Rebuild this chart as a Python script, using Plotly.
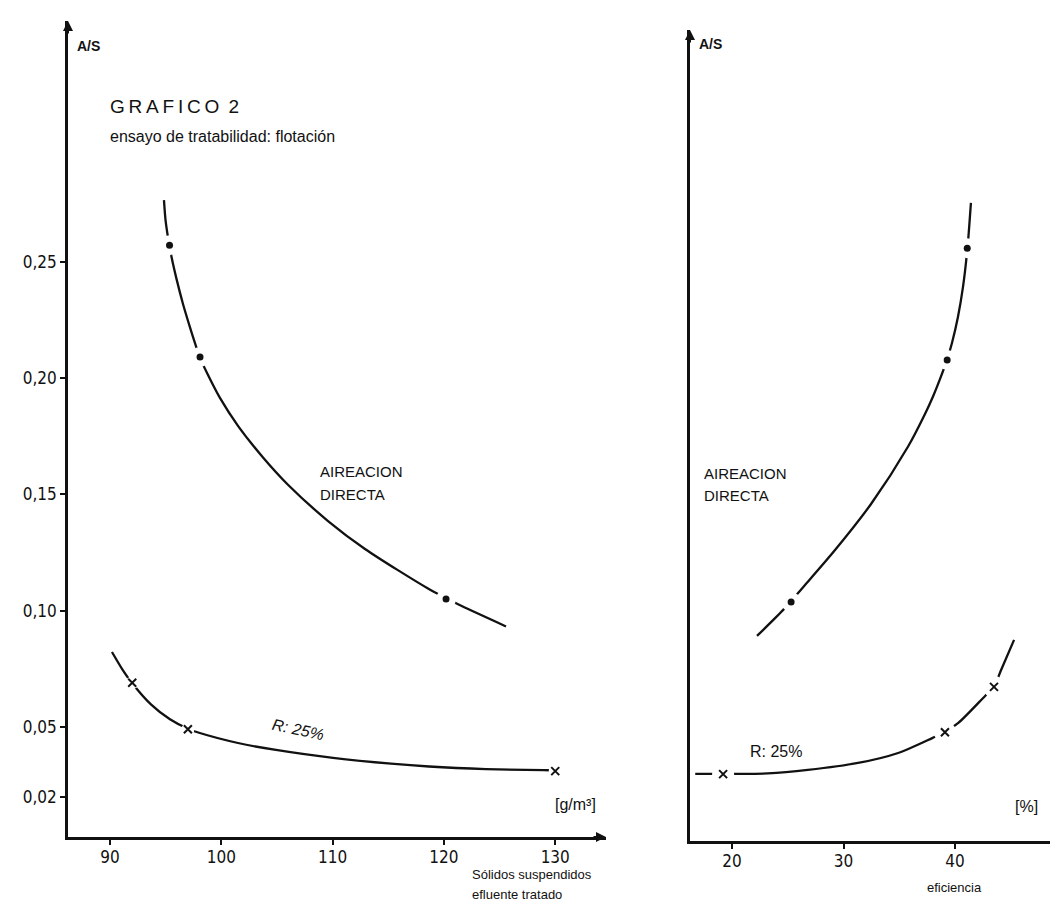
import plotly.graph_objects as go

W, H = 1058, 911

# ---------------- data ----------------
# Left panel: A/S vs suspended solids of treated effluent [g/m3]
ss_direct_curve = [94.85, 94.99, 95.15, 95.35, 95.55, 95.96, 96.56, 97.21, 97.66, 98.09, 98.72,
                   99.88, 101.50, 103.75, 105.99, 109.59, 112.91, 118.57, 120.19, 121.27, 125.58]
as_direct_curve = [0.2764, 0.2679, 0.2623, 0.2567, 0.2515, 0.2429, 0.2318, 0.2214, 0.2146, 0.2086, 0.2021,
                   0.1914, 0.1794, 0.1658, 0.1541, 0.1385, 0.1265, 0.1095, 0.1054, 0.1027, 0.0932]
ss_direct_pts = [95.35, 98.09, 120.19]
as_direct_pts = [0.257, 0.209, 0.105]

ss_r25_curve = [90.18, 91.08, 91.98, 93.68, 95.39, 97.01, 98.0, 101.5, 104.91, 110.04,
                115.25, 118.66, 123.78, 128.99, 129.97]
as_r25_curve = [0.0822, 0.0750, 0.0689, 0.0597, 0.0533, 0.0492, 0.0475, 0.0431, 0.0401, 0.0367,
                0.0342, 0.0330, 0.0319, 0.0314, 0.0314]
ss_r25_pts = [92.0, 97.0, 130.0]
as_r25_pts = [0.069, 0.049, 0.031]

# Right panel: A/S vs efficiency [%]
ef_direct_curve = [41.43, 41.12, 40.72, 40.27, 39.73, 39.28, 38.74, 38.03, 37.31, 35.78,
                   32.47, 29.24, 26.55, 25.29, 24.57, 22.24]
as_direct_curve_r = [0.2765, 0.2571, 0.2404, 0.2276, 0.2163, 0.2090, 0.2018, 0.1933, 0.1858, 0.1717,
                     0.1471, 0.1273, 0.1123, 0.1054, 0.1015, 0.0904]
ef_direct_pts = [41.1, 39.3, 25.3]
as_direct_pts_r = [0.257, 0.209, 0.105]

ef_r25_curve = [16.7, 18.1, 19.2, 20.4, 23.2, 26.8, 31.3, 34.9, 38.0, 39.1,
                40.3, 42.7, 43.5, 44.1, 45.3]
as_r25_curve_r = [0.0311, 0.0311, 0.0311, 0.0311, 0.0313, 0.0328, 0.0358, 0.0401, 0.0466, 0.0491,
                  0.0530, 0.0646, 0.0685, 0.0753, 0.0887]
ef_r25_pts = [19.2, 39.1, 43.5]
as_r25_pts_r = [0.031, 0.049, 0.0685]

y_ticks = [0.02, 0.05, 0.10, 0.15, 0.20, 0.25]
y_tick_text = ["0,02", "0,05", "0,10", "0,15", "0,20", "0,25"]
ss_ticks = [90, 100, 110, 120, 130]
ef_ticks = [20, 30, 40]

# ---------------- styling ----------------
NARROW = "Liberation Sans Narrow, DejaVu Sans Condensed, Arial Narrow, Liberation Sans, sans-serif"
SANS = "Liberation Sans, Arial, Helvetica, sans-serif"
INK = "#111111"


def pxx(x):
    return x / W


def pxy(y):
    return 1 - y / H


def spaced(s):
    return "\u2009".join(s)


fig = go.Figure()


def add_curve(x, y, xa, ya):
    fig.add_trace(go.Scatter(x=x, y=y, mode="lines", xaxis=xa, yaxis=ya,
                             line=dict(color=INK, width=2.3, shape="spline", smoothing=0.8),
                             hoverinfo="skip", showlegend=False))


def add_halo(x, y, xa, ya, size):
    fig.add_trace(go.Scatter(x=x, y=y, mode="markers", xaxis=xa, yaxis=ya,
                             marker=dict(size=size, color="white"),
                             hoverinfo="skip", showlegend=False))


def add_dots(x, y, xa, ya):
    fig.add_trace(go.Scatter(x=x, y=y, mode="markers", xaxis=xa, yaxis=ya,
                             marker=dict(size=7, color=INK), showlegend=False))


def add_crosses(x, y, xa, ya):
    fig.add_trace(go.Scatter(x=x, y=y, mode="markers", xaxis=xa, yaxis=ya,
                             marker=dict(size=8, symbol="x-thin", color=INK,
                                         line=dict(width=2, color=INK)),
                             showlegend=False))


# left panel
add_curve(ss_direct_curve, as_direct_curve, "x", "y")
add_halo(ss_direct_pts, as_direct_pts, "x", "y", 20)
add_dots(ss_direct_pts, as_direct_pts, "x", "y")
add_curve(ss_r25_curve, as_r25_curve, "x", "y")
add_halo(ss_r25_pts, as_r25_pts, "x", "y", 13)
add_crosses(ss_r25_pts, as_r25_pts, "x", "y")

# right panel
add_curve(ef_direct_curve, as_direct_curve_r, "x2", "y2")
add_halo(ef_direct_pts, as_direct_pts_r, "x2", "y2", 20)
add_dots(ef_direct_pts, as_direct_pts_r, "x2", "y2")
add_curve(ef_r25_curve, as_r25_curve_r, "x2", "y2")
add_halo(ef_r25_pts, as_r25_pts_r, "x2", "y2", 22)
add_crosses(ef_r25_pts, as_r25_pts_r, "x2", "y2")

axis_common = dict(showline=True, linecolor=INK, linewidth=2.6, showgrid=False,
                   zeroline=False, ticks="outside", ticklen=5, tickwidth=1.5,
                   tickcolor=INK, tickfont=dict(family=NARROW, size=17, color=INK))

fig.update_layout(
    width=W, height=H, autosize=False,
    margin=dict(l=0, r=0, t=0, b=0),
    paper_bgcolor="white", plot_bgcolor="white",
    showlegend=False,
    xaxis=dict(domain=[pxx(60), pxx(598)], range=[86.23, 134.56], anchor="y",
               tickvals=ss_ticks, ticklabelstandoff=-2, **axis_common),
    yaxis=dict(domain=[pxy(829), pxy(13)], range=[0.0027, 0.3534], anchor="x",
               tickvals=y_ticks, ticktext=y_tick_text, ticklabelstandoff=0, **axis_common),
    xaxis2=dict(domain=[pxx(682), pxx(1056)], range=[16.23, 49.78], anchor="y2",
                tickvals=ef_ticks, ticklabelstandoff=-2, **axis_common),
    yaxis2=dict(domain=[pxy(833), pxy(22)], range=[0.00227, 0.35079], anchor="x2",
                showline=True, linecolor=INK, linewidth=2.6, showgrid=False,
                zeroline=False, showticklabels=False, ticks=""),
)


def label(text, x, y, size, xanchor="left", family=SANS, angle=0):
    fig.add_annotation(text=text, x=pxx(x), y=pxy(y), xref="paper", yref="paper",
                       xanchor=xanchor, yanchor="middle", showarrow=False,
                       textangle=angle, font=dict(family=family, size=size, color=INK))


label("<b>A/S</b>", 67, 38, 14)
label("<b>A/S</b>", 689, 36, 14)
label(spaced("GRAFICO") + "\u2009 " + "2", 100, 98, 19)
label("ensayo de tratabilidad: flotación", 100, 128, 16)
label("AIREACION", 310, 463, 15)
label("DIRECTA", 310, 486, 15)
label("AIREACION", 694, 465, 15)
label("DIRECTA", 694, 488, 15)
label("<i>R: 25%</i>", 290, 721, 16, xanchor="center", angle=12)
label("R: 25%", 740, 743, 16)
label("[g/m³]", 567, 796, 16, xanchor="center")
label("[%]", 1018, 798, 16, xanchor="center")
label("Sólidos suspendidos", 462, 866, 13)
label("efluente tratado", 462, 886, 13)
label("eficiencia", 946, 879, 13, xanchor="center")

# axis arrow heads
for (x, y, ax, ay) in [(598, 829, -14, 0), (1056, 833, -14, 0), (60, 13, 0, 14), (682, 22, 0, 14)]:
    fig.add_annotation(x=pxx(x), y=pxy(y), xref="paper", yref="paper", text="",
                       showarrow=True, ax=ax, ay=ay, arrowhead=2, arrowsize=1,
                       arrowwidth=2, arrowcolor=INK)

fig.write_html("out.html")
